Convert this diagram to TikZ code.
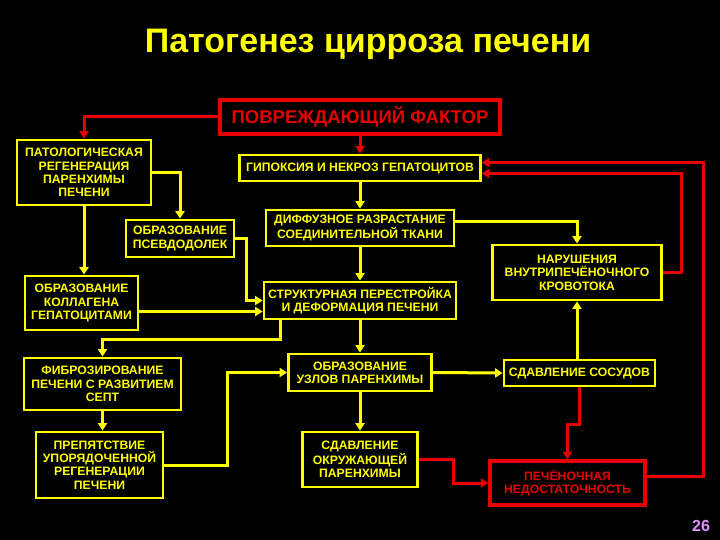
\documentclass[tikz,border=0pt]{standalone}
\usepackage{fontspec}
\setmainfont{Liberation Sans}
\usetikzlibrary{positioning, arrows.meta, calc}
\definecolor{cyellow}{HTML}{FFFF00}
\definecolor{cred}{HTML}{E80000}
\definecolor{cpink}{HTML}{E58CFF}

\begin{document}
\begin{tikzpicture}[x=1pt, y=-1pt,
    ybox/.style={draw=cyellow, line width=2.8pt, fill=black, text=cyellow, align=center, inner sep=1pt,
      font=\fontsize{12.2}{13.4}\selectfont\bfseries},
    rbox/.style={ybox, draw=cred, text=cred},
    yline/.style={draw=cyellow, line width=3pt, -{Triangle[length=7.5pt, width=9pt]}},
    rline/.style={yline, draw=cred}]
  \fill[black] (0,0) rectangle (720,540);
  \node[text=cyellow, font=\fontsize{34}{40}\selectfont\bfseries] (title) at (368,44) {Патогенез цирроза печени};
  % boxes
  \node[rbox, line width=4pt, minimum width=280, minimum height=34, font=\fontsize{18.5}{20}\selectfont\bfseries] (fac) at (360,117) {ПОВРЕЖДАЮЩИЙ ФАКТОР};
  \node[ybox, minimum width=134, minimum height=65] (regen) at (84,172.5) {ПАТОЛОГИЧЕСКАЯ\\РЕГЕНЕРАЦИЯ\\ПАРЕНХИМЫ\\ПЕЧЕНИ};
  \node[ybox, minimum width=241, minimum height=26] (hyp) at (360,168) {ГИПОКСИЯ И НЕКРОЗ ГЕПАТОЦИТОВ};
  \node[ybox, minimum width=108, minimum height=37] (pseudo) at (180,238.5) {ОБРАЗОВАНИЕ\\ПСЕВДОДОЛЕК};
  \node[ybox, minimum width=188, minimum height=36] (diff) at (360,228) {ДИФФУЗНОЕ РАЗРАСТАНИЕ\\СОЕДИНИТЕЛЬНОЙ ТКАНИ};
  \node[ybox, minimum width=169, minimum height=55] (flow) at (577,272.5) {НАРУШЕНИЯ\\ВНУТРИПЕЧЁНОЧНОГО\\КРОВОТОКА};
  \node[ybox, minimum width=113, minimum height=54] (coll) at (81.5,303) {ОБРАЗОВАНИЕ\\КОЛЛАГЕНА\\ГЕПАТОЦИТАМИ};
  \node[ybox, minimum width=192, minimum height=37] (struct) at (360,300.5) {СТРУКТУРНАЯ ПЕРЕСТРОЙКА\\И ДЕФОРМАЦИЯ ПЕЧЕНИ};
  \node[ybox, minimum width=157, minimum height=52] (fibr) at (102.5,384) {ФИБРОЗИРОВАНИЕ\\ПЕЧЕНИ С РАЗВИТИЕМ\\СЕПТ};
  \node[ybox, minimum width=143, minimum height=37] (knots) at (360,372.5) {ОБРАЗОВАНИЕ\\УЗЛОВ ПАРЕНХИМЫ};
  \node[ybox, minimum width=151, minimum height=26] (vess) at (579.5,373) {СДАВЛЕНИЕ СОСУДОВ};
  \node[ybox, minimum width=127, minimum height=66] (obst) at (99.5,465) {ПРЕПЯТСТВИЕ\\УПОРЯДОЧЕННОЙ\\РЕГЕНЕРАЦИИ\\ПЕЧЕНИ};
  \node[ybox, minimum width=115, minimum height=55] (press) at (360,459.5) {СДАВЛЕНИЕ\\ОКРУЖАЮЩЕЙ\\ПАРЕНХИМЫ};
  \node[rbox, line width=3.5pt, minimum width=155, minimum height=44] (fail) at (567.5,483) {ПЕЧЁНОЧНАЯ\\НЕДОСТАТОЧНОСТЬ};
  \node[text=cpink, font=\fontsize{16}{18}\selectfont\bfseries] (page) at (701,526) {26};
  % red links
  \draw[rline] (fac.west) -| (regen.north);
  \draw[rline] (fac.south) -- (hyp.north);
  \draw[rline] (press.east) -- ++(35,0) |- (fail.west);
  \draw[rline] (vess.south) -- ++(0,37) -| (fail.north);
  \draw[rline] (flow.east) -- ++(19,0) |- ([yshift=-5.5pt]hyp.east);
  \draw[rline] ([yshift=7pt]fail.east) -- ++(57,0) |- ([yshift=5.5pt]hyp.east);
  % yellow links
  \draw[yline] (regen.east) -| (pseudo.north);
  \draw[yline] (regen.south) -- (regen.south |- coll.north);
  \draw[yline] (hyp.south) -- (diff.north);
  \draw[yline] ([yshift=6pt]diff.east) -| (flow.north);
  \draw[yline] (diff.south) -- (struct.north);
  \draw[yline] (pseudo.east) -- ++(11,0) |- (struct.west);
  \draw[yline] ([yshift=-8.5pt]coll.east) -- ([yshift=-8.5pt]coll.east -| struct.west);
  \draw[yline] ([xshift=-80pt]struct.south) -- ++(0,19) -| (fibr.north);
  \draw[yline] (struct.south) -- (knots.north);
  \draw[yline] (fibr.south) -- (fibr.south |- obst.north);
  \draw[yline] (obst.east) -- ++(63,0) |- (knots.west);
  \draw[yline] (knots.east) -- (vess.west);
  \draw[yline] (flow.south |- vess.north) -- (flow.south);
  \draw[yline] (knots.south) -- (press.north);
\end{tikzpicture}
\end{document}
